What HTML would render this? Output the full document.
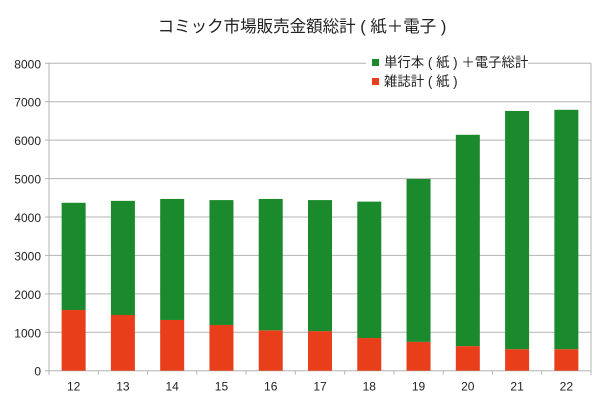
<!DOCTYPE html>
<html><head><meta charset="utf-8"><style>
body{margin:0;background:#fff;}
svg{font-family:"Liberation Sans","Noto Sans CJK JP",sans-serif;}
</style></head><body>
<svg id="c" width="604" height="406">
<text x="302" y="32" text-anchor="middle" font-size="16.5" fill="#222">コミック市場販売金額総計 ( 紙＋電子 )</text>
<g id="grid"></g><g id="bars"></g><g id="axes"></g>
<g>
<rect x="366" y="54" width="162" height="38" fill="#fff"/>
<rect x="372" y="59" width="7" height="7" fill="#1a8a2c"/>
<text x="384" y="67" font-size="13.4" fill="#222">単行本 ( 紙 ) ＋電子総計</text>
<rect x="372" y="78" width="7" height="7" fill="#e83e1a"/>
<text x="384" y="86" font-size="13.4" fill="#222">雑誌計 ( 紙 )</text>
</g>
</svg>
<script>
const categories=["12","13","14","15","16","17","18","19","20","21","22"];
const magazineValues=[1580,1450,1320,1190,1050,1030,850,750,640,560,560];
const totalValues=[4370,4420,4470,4440,4470,4440,4400,4990,6140,6760,6790];
const yTicks=[0,1000,2000,3000,4000,5000,6000,7000,8000];
const NS="http://www.w3.org/2000/svg";
const L=49,R=591,T=63.3,B=370.7,YMAX=8000;
const cw=(R-L)/categories.length;
const y=v=>B-(v/YMAX)*(B-T);
const xc=i=>L+cw*(i+0.5);
function mk(tag,at,parent){const e=document.createElementNS(NS,tag);for(const k in at)e.setAttribute(k,at[k]);document.getElementById(parent).appendChild(e);return e;}
yTicks.forEach(t=>{
 const g=mk('line',{x1:L-4,x2:R,y1:y(t),y2:y(t),stroke:'#b3b3b3','stroke-width':1},'grid');
 
 
 const tx=mk('text',{x:L-8,y:y(t)+5,'text-anchor':'end','font-size':12,fill:'#222'},'axes');
 tx.textContent=t;
 
 
});
mk('line',{x1:L,x2:L,y1:T,y2:B+4,stroke:'#b3b3b3'},'axes');
mk('line',{x1:R,x2:R,y1:T,y2:B,stroke:'#b3b3b3'},'grid');
categories.forEach((c,i)=>{
 const bw=24;
 const r=mk('rect',{x:xc(i)-bw/2,y:y(magazineValues[i]),width:bw,height:B-y(magazineValues[i]),fill:'#e83e1a'},'bars');
 
 
 const g=mk('rect',{x:xc(i)-bw/2,y:y(totalValues[i]),width:bw,height:y(magazineValues[i])-y(totalValues[i]),fill:'#1a8a2c'},'bars');
 
 
 const tk=mk('line',{x1:L+cw*(i+1),x2:L+cw*(i+1),y1:B,y2:B+4,stroke:'#b3b3b3'},'axes');
 
 
 const t=mk('text',{x:xc(i),y:B+20,'text-anchor':'middle','font-size':12,fill:'#222'},'axes');
 t.textContent=c;
 
 
});
</script>
</body></html>
